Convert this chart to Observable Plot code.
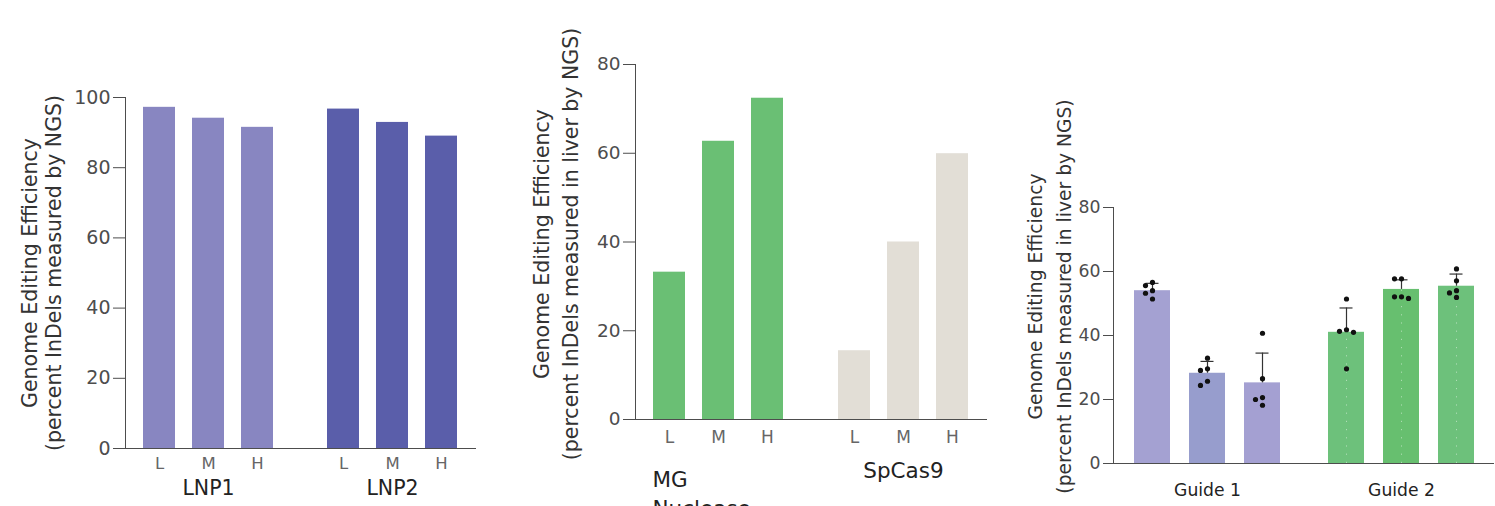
<!DOCTYPE html>
<html>
<head>
<meta charset="utf-8">
<script src="https://cdn.jsdelivr.net/npm/d3@7"></script>
<script src="https://cdn.jsdelivr.net/npm/@observablehq/plot@0.6"></script>
<style>
  html, body { margin: 0; padding: 0; background: #ffffff; }
  body { width: 1495px; height: 506px; overflow: hidden; position: relative; font-family: "DejaVu Sans", sans-serif; }
  .panel { position: absolute; top: 0; }
  .panel svg { display: block; overflow: visible; }
</style>
</head>
<body>
<div id="p1" class="panel" style="left:0px"></div>
<div id="p2" class="panel" style="left:500px"></div>
<div id="p3" class="panel" style="left:1000px"></div>
<script>
// ---------- data ----------
const doses = ["L", "M", "H"];

// Panel 1
const lnpGroups = ["LNP1", "LNP2"];
const lnp1Values = [97.2, 94.1, 91.5];
const lnp2Values = [96.7, 92.9, 89.0];
const yTicks1 = [0, 20, 40, 60, 80, 100];
const yLabel1 = "Genome Editing Efficiency\n(percent InDels measured by NGS)";

// Panel 2
const nucleaseGroups = ["MG", "SpCas9"];
const nucleaseLabels = ["MG\nNuclease", "SpCas9"];
const mgValues = [33.2, 62.7, 72.4];
const spcas9Values = [15.5, 40.0, 59.9];
const yTicks2 = [0, 20, 40, 60, 80];
const yLabel2 = "Genome Editing Efficiency\n(percent InDels measured in liver by NGS)";

// Panel 3
const guideGroups = ["Guide 1", "Guide 2"];
const guideBars = ["a", "b", "c"];
const guide1Means = [54.0, 28.2, 25.2];
const guide2Means = [41.0, 54.4, 55.4];
const guide1Upper = [56.3, 31.9, 34.5];
const guide2Upper = [48.6, 57.4, 59.2];
const guide1Points = [[56.6, 55.6, 54.0, 53.2, 51.4], [32.9, 29.1, 29.6, 24.4, 25.7], [40.7, 26.5, 20.6, 20.0, 18.2]];
const guide2Points = [[51.4, 41.8, 41.0, 41.3, 29.6], [57.7, 57.7, 52.1, 52.1, 51.6], [60.8, 57.1, 54.0, 53.3, 51.9]];
const yTicks3 = [0, 20, 40, 60, 80];
const yLabel3 = "Genome Editing Efficiency\n(percent InDels measured in liver by NGS)";

// ---------- styles ----------
const FONT = "'DejaVu Sans', sans-serif";
const lnpColors = ["#8886c1", "#5a5eaa"];
const nucleaseColors = ["#6abf74", "#e2ded6"];
const guideColors = ["#a4a1d2", "#979dcd", "#a4a0d2", "#6dc17b", "#67bf6f", "#6dc17b"];
const AXIS = "#4d4d4d";

// ---------- tables ----------
const lnpData = lnpGroups.flatMap((g, gi) =>
  doses.map((d, i) => ({group: g, dose: d, value: [lnp1Values, lnp2Values][gi][i]})));
const nucData = nucleaseGroups.flatMap((g, gi) =>
  doses.map((d, i) => ({group: g, dose: d, value: [mgValues, spcas9Values][gi][i]})));
const guideData = guideGroups.flatMap((g, gi) =>
  guideBars.map((b, i) => ({
    group: g, bar: b, key: g + "-" + b,
    mean: [guide1Means, guide2Means][gi][i],
    upper: [guide1Upper, guide2Upper][gi][i]
  })));

// simple beeswarm slot assignment (in value units) for the replicate dots
function slots(values, thr) {
  const order = d3.range(values.length).sort((a, b) => values[b] - values[a]);
  const placed = [];
  const out = new Array(values.length);
  for (const i of order) {
    for (const s of [0, -1, 1, -2, 2]) {
      if (!placed.some(p => p.s === s && Math.abs(p.v - values[i]) < thr)) {
        out[i] = s; placed.push({s, v: values[i]}); break;
      }
    }
  }
  return out;
}
const pointData = guideGroups.flatMap((g, gi) =>
  guideBars.flatMap((b, i) => {
    const vals = [guide1Points, guide2Points][gi][i];
    const sl = slots(vals, 1.9);
    return vals.map((v, k) => ({group: g, bar: b, value: v, slot: sl[k]}));
  }));

// ---------- Panel 1 ----------
const p1 = Plot.plot({
  width: 480, height: 506,
  marginLeft: 125, marginRight: 4, marginTop: 97, marginBottom: 58,
  style: {fontFamily: FONT, fontSize: "19px", color: AXIS, background: "transparent", overflow: "visible"},
  fx: {domain: lnpGroups, paddingInner: 0.0924, paddingOuter: 0, axis: null},
  x: {domain: doses, padding: 0.34},
  y: {domain: [0, 100], ticks: yTicks1, tickSize: 12, tickPadding: 3, line: true, label: null},
  color: {domain: lnpGroups, range: lnpColors},
  marks: [
    Plot.barY(lnpData, {fx: "group", x: "dose", y: "value", fill: "group"}),
    Plot.ruleY([0], {fx: [lnpGroups[0]], insetRight: -17, stroke: AXIS, strokeWidth: 1.2}),
    Plot.ruleY([0], {fx: [lnpGroups[1]], stroke: AXIS, strokeWidth: 1.2}),
    Plot.axisX({tickSize: 0, tickPadding: 9, fontSize: 16.5, label: null, fill: "#666"}),
    Plot.text(lnpGroups, {fx: d => d, x: () => "M", text: d => d, frameAnchor: "bottom", dy: 46, fontSize: 20.5, fill: "#222"}),
    Plot.text([yLabel1], {fx: [lnpGroups[0]], text: d => d, frameAnchor: "left", textAnchor: "middle", rotate: -90, dx: -84, dy: 0, lineHeight: 1.15, fontSize: 20.5, fill: "#333"})
  ]
});
document.getElementById("p1").append(p1);

// ---------- Panel 2 ----------
const p2 = Plot.plot({
  width: 500, height: 506,
  marginLeft: 135, marginRight: 13, marginTop: 64, marginBottom: 87,
  style: {fontFamily: FONT, fontSize: "18.5px", color: AXIS, background: "transparent", overflow: "visible"},
  fx: {domain: nucleaseGroups, paddingInner: 0.0973, paddingOuter: 0, axis: null},
  x: {domain: doses, padding: 0.34},
  y: {domain: [0, 80], ticks: yTicks2, tickSize: 12, tickPadding: 3, line: true, label: null},
  color: {domain: nucleaseGroups, range: nucleaseColors},
  marks: [
    Plot.barY(nucData, {fx: "group", x: "dose", y: "value", fill: "group"}),
    Plot.ruleY([0], {fx: [nucleaseGroups[0]], insetRight: -18, stroke: AXIS, strokeWidth: 1.2}),
    Plot.ruleY([0], {fx: [nucleaseGroups[1]], stroke: AXIS, strokeWidth: 1.2}),
    Plot.axisX({tickSize: 0, tickPadding: 11, fontSize: 17, label: null, fill: "#666"}),
    Plot.text([nucleaseLabels[0]], {fx: [nucleaseGroups[0]], x: () => "L", text: d => d, frameAnchor: "bottom", textAnchor: "start", lineAnchor: "top", dx: -17, dy: 47, lineHeight: 1.35, fontSize: 21.5, fill: "#222"}),
    Plot.text([nucleaseLabels[1]], {fx: [nucleaseGroups[1]], x: () => "M", text: d => d, frameAnchor: "bottom", dy: 58, fontSize: 21.5, fill: "#222"}),
    Plot.text([yLabel2], {fx: [nucleaseGroups[0]], text: d => d, frameAnchor: "left", textAnchor: "middle", rotate: -90, dx: -81, dy: 2, lineHeight: 1.4, fontSize: 20.5, fill: "#333"})
  ]
});
document.getElementById("p2").append(p2);

// ---------- Panel 3 ----------
const p3 = Plot.plot({
  width: 495, height: 506,
  marginLeft: 113, marginRight: 0, marginTop: 207, marginBottom: 43,
  style: {fontFamily: FONT, fontSize: "17.3px", color: AXIS, background: "transparent", overflow: "visible"},
  fx: {domain: guideGroups, paddingInner: 0.036, paddingOuter: 0, axis: null},
  x: {domain: guideBars, padding: 0.348, axis: null},
  y: {domain: [0, 80], ticks: yTicks3, tickSize: 10, tickPadding: 3, line: true, label: null},
  color: {domain: guideData.map(d => d.key), range: guideColors},
  marks: [
    Plot.barY(guideData, {fx: "group", x: "bar", y: "mean", fill: "key"}),
    Plot.ruleX(guideData.filter(d => d.group === guideGroups[1]), {fx: "group", x: "bar", y1: 0, y2: "mean", stroke: "white", strokeOpacity: 0.45, strokeDasharray: "1.2,7"}),
    Plot.ruleX(guideData, {fx: "group", x: "bar", y1: "mean", y2: "upper", stroke: "#333", strokeWidth: 1.2}),
    Plot.tickY(guideData, {fx: "group", x: "bar", y: "upper", insetLeft: 11.5, insetRight: 11.5, stroke: "#333", strokeWidth: 1.2}),
    ...[-2, -1, 0, 1, 2].map(s => Plot.dot(pointData.filter(d => d.slot === s), {fx: "group", x: "bar", y: "value", r: 2.6, fill: "#111", stroke: "none", dx: s * 7})),
    Plot.ruleY([0], {fx: [guideGroups[0]], insetRight: -8, stroke: AXIS, strokeWidth: 1.2}),
    Plot.ruleY([0], {fx: [guideGroups[1]], stroke: AXIS, strokeWidth: 1.2}),
    Plot.text(guideGroups, {fx: d => d, x: () => "b", text: d => d, frameAnchor: "bottom", dy: 32, fontSize: 17.2, fill: "#222"}),
    Plot.text([yLabel3], {fx: [guideGroups[0]], text: d => d, frameAnchor: "left", textAnchor: "middle", rotate: -90, dx: -66, dy: -39, lineHeight: 1.55, fontSize: 18.7, fill: "#333"})
  ]
});
document.getElementById("p3").append(p3);
</script>
</body>
</html>
